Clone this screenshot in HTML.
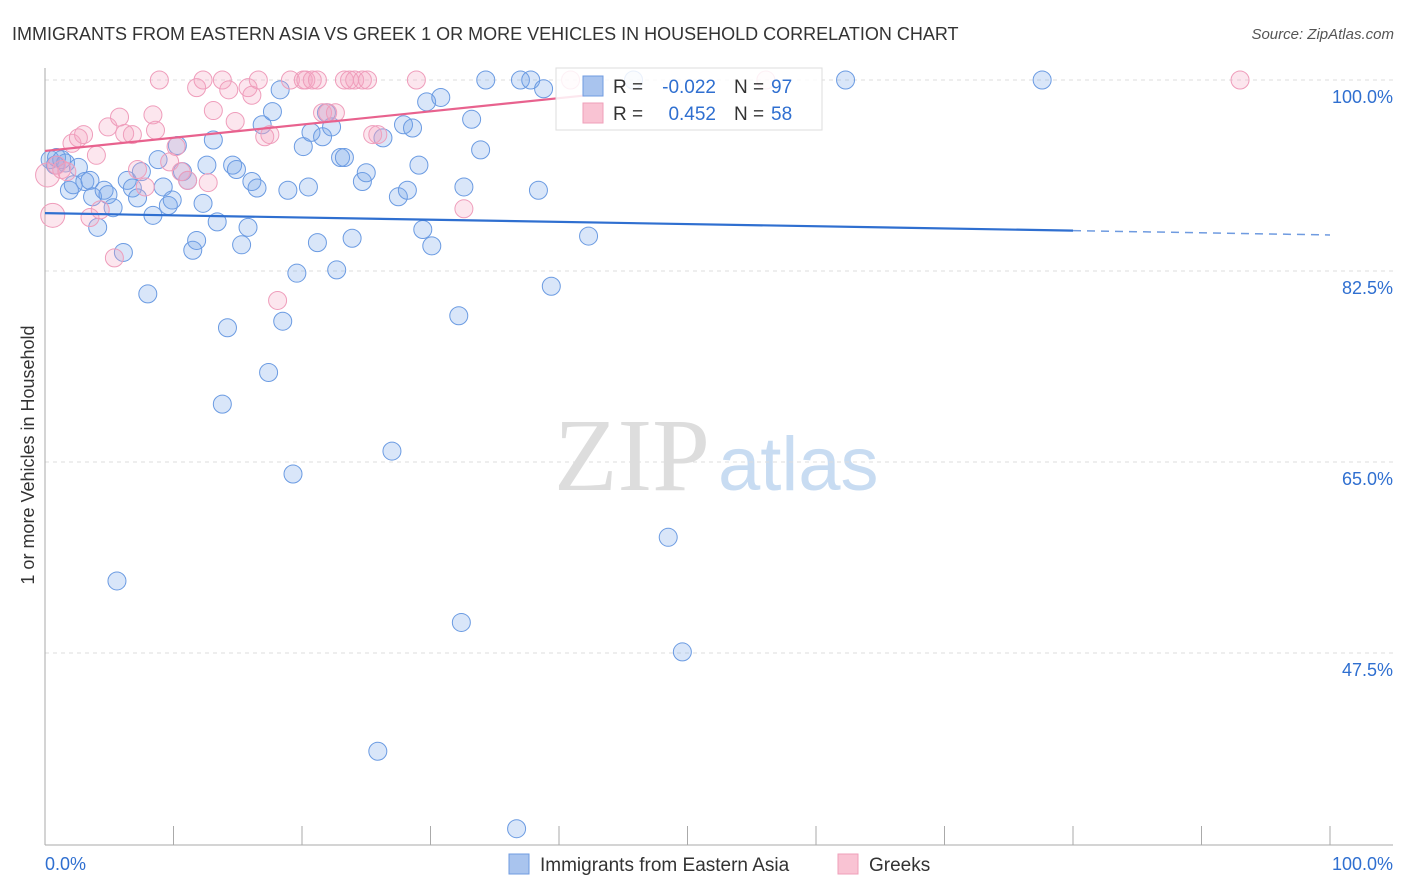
<!DOCTYPE html>
<html><head><meta charset="utf-8">
<style>
body{margin:0;background:#fff;font-family:"Liberation Sans",sans-serif;}
#wrap{position:relative;width:1406px;height:892px;overflow:hidden;}
</style></head>
<body>
<div id="wrap">
<svg id="svg" width="1406" height="892" xmlns="http://www.w3.org/2000/svg">
<text x="12" y="40" font-size="18" fill="#333">IMMIGRANTS FROM EASTERN ASIA VS GREEK 1 OR MORE VEHICLES IN HOUSEHOLD CORRELATION CHART</text>
<text x="1394" y="39" font-size="15" fill="#555" font-style="italic" text-anchor="end">Source: ZipAtlas.com</text>
<text x="554" y="490" font-size="104" fill="#ddd" font-family="Liberation Serif,serif">ZIP</text>
<text x="718" y="490" font-size="76" fill="#c8dcf2">atlas</text>
<text transform="translate(34,455) rotate(-90)" font-size="18" fill="#333" text-anchor="middle">1 or more Vehicles in Household</text>
<g id="grid"></g><g id="axes"></g><g id="pts"></g><g id="trend"></g>
<g>
<rect x="556" y="68" width="266" height="62" fill="#fff" fill-opacity="0.85" stroke="#ddd"/>
<rect x="583" y="76" width="20" height="20" fill="#a9c4ee" stroke="#6f9be0"/>
<rect x="583" y="103" width="20" height="20" fill="#f9c3d3" stroke="#ef9fba"/>
<text x="613" y="93" font-size="19" fill="#333">R =</text>
<text x="716" y="93" font-size="19" fill="#2f6fd0" text-anchor="end">-0.022</text>
<text x="734" y="93" font-size="19" fill="#333">N =</text>
<text x="771" y="93" font-size="19" fill="#2f6fd0">97</text>
<text x="613" y="120" font-size="19" fill="#333">R =</text>
<text x="716" y="120" font-size="19" fill="#2f6fd0" text-anchor="end">0.452</text>
<text x="734" y="120" font-size="19" fill="#333">N =</text>
<text x="771" y="120" font-size="19" fill="#2f6fd0">58</text>
</g>
<g>
<rect x="509" y="854" width="20" height="20" fill="#a9c4ee" stroke="#6f9be0"/>
<text x="540" y="871" font-size="19" fill="#333">Immigrants from Eastern Asia</text>
<rect x="838" y="854" width="20" height="20" fill="#f9c3d3" stroke="#ef9fba"/>
<text x="869" y="871" font-size="19" fill="#333">Greeks</text>
</g>
<text x="45" y="870" font-size="18" fill="#2f6fd0">0.0%</text>
<text x="1393" y="870" font-size="18" fill="#2f6fd0" text-anchor="end">100.0%</text>
</svg>
</div>
<script>
const yTicks=[100,82.5,65,47.5];
const yTickLabels=["100.0%","82.5%","65.0%","47.5%"];
const blueX=[0.4,0.9,1.3,0.8,1.6,1.9,2.2,2.6,3.1,3.5,3.7,4.1,4.6,4.9,5.3,5.6,6.1,6.4,6.8,7.2,7.5,8.0,8.4,8.8,9.2,9.6,9.9,10.3,10.7,11.1,11.5,11.8,12.3,12.6,13.1,13.4,13.8,14.2,14.6,14.9,15.3,15.8,16.1,16.5,16.9,17.4,17.7,18.3,18.5,18.9,19.3,19.6,20.1,20.5,20.7,21.2,21.6,21.9,22.3,22.7,23.0,23.3,23.9,24.7,25.0,25.9,26.3,27.0,27.5,27.9,28.2,28.6,29.1,29.4,29.7,30.1,30.8,32.2,32.4,32.6,33.2,33.9,34.3,36.7,37.0,37.8,38.4,38.8,39.4,42.3,45.8,48.5,49.6,62.3,77.6];
const blueY=[92.7,92.9,92.7,92.2,92.4,89.9,90.4,92.0,90.7,90.8,89.3,86.5,89.9,89.5,88.3,54.1,84.2,90.8,90.1,89.2,91.6,80.4,87.6,92.7,90.2,88.5,89.0,94.0,91.6,90.8,84.4,85.3,88.7,92.2,94.5,87.0,70.3,77.3,92.2,91.8,84.9,86.5,90.7,90.1,95.9,73.2,97.1,99.1,77.9,89.9,63.9,82.3,93.9,90.2,95.2,85.1,94.8,97.0,95.7,82.6,92.9,92.9,85.5,90.7,91.5,38.5,94.7,66.0,89.3,95.9,89.9,95.6,92.2,86.3,98.0,84.8,98.4,78.4,50.3,90.2,96.4,93.6,100,31.4,100,100,89.9,99.2,81.1,85.7,100,58.1,47.6,100,100];
const pinkX=[0.2,0.6,0.9,1.3,1.7,2.1,2.6,3.0,4.0,4.3,3.5,4.9,5.4,5.8,6.2,6.8,7.2,7.8,8.4,8.6,8.9,9.7,10.2,10.6,11.1,11.8,12.3,12.7,13.1,13.8,14.3,14.8,15.8,16.1,16.6,17.1,17.5,18.1,19.1,20.1,20.3,20.8,21.2,21.6,22.0,22.6,23.3,23.7,24.1,24.7,25.1,25.5,25.9,28.9,32.6,40.9,56.1,93.0];
const pinkY=[91.3,87.6,92.2,91.8,91.6,94.2,94.7,95.0,93.1,88.1,87.4,95.7,83.7,96.6,95.1,95.0,91.8,90.2,96.8,95.4,100,92.5,93.9,91.6,90.8,99.3,100,90.6,97.2,100,99.1,96.2,99.3,98.6,100,94.8,95.0,79.8,100,100,100,100,100,97.0,97.0,97.0,100,100,100,100,100,95.0,95.0,100,88.2,100,100,100];
const blueTrend=[0,87.8,80,86.2,100,85.8];
const pinkTrend=[0,93.5,43,98.7];
const X=v=>45+v*12.85, Y=v=>80+(100-v)*191/17.5;
const NS="http://www.w3.org/2000/svg";
function mk(tag,attrs,parent){const e=document.createElementNS(NS,tag);for(const k in attrs)e.setAttribute(k,attrs[k]);document.getElementById(parent).appendChild(e);return e;}
yTicks.forEach((t,i)=>{
  const l=mk('line',{x1:45,x2:1393,y1:Y(t),y2:Y(t),stroke:'#ddd','stroke-dasharray':'4,4'},'grid');
  
  
  const tx=mk('text',{x:1393,y:Y(t)+23,'font-size':18,fill:'#2f6fd0','text-anchor':'end'},'grid');
  tx.textContent=yTickLabels[i];
  
  
});
let a=mk('line',{x1:45,x2:45,y1:68,y2:845,stroke:'#aaa'},'axes');


a=mk('line',{x1:45,x2:1393,y1:845,y2:845,stroke:'#aaa'},'axes');


for(let k=1;k<=10;k++){
  const t=mk('line',{x1:X(k*10),x2:X(k*10),y1:826,y2:845,stroke:'#aaa'},'axes');
  
  
}
blueX.forEach((x,i)=>{
  const c=mk('circle',{cx:X(x),cy:Y(blueY[i]),r:9,fill:'rgba(120,165,235,0.28)',stroke:'#6b9be2','stroke-width':1},'pts');
  
  
});
pinkX.forEach((x,i)=>{
  const c=mk('circle',{cx:X(x),cy:Y(pinkY[i]),r:(i<2?12:9),fill:'rgba(245,165,195,0.28)',stroke:'#ef9dbb','stroke-width':1},'pts');
  
  
});
let t=mk('line',{x1:X(blueTrend[0]),y1:Y(blueTrend[1]),x2:X(blueTrend[2]),y2:Y(blueTrend[3]),stroke:'#2f6fd0','stroke-width':2.2},'trend');


t=mk('line',{x1:X(blueTrend[2]),y1:Y(blueTrend[3]),x2:X(blueTrend[4]),y2:Y(blueTrend[5]),stroke:'#6f9be0','stroke-width':1.5,'stroke-dasharray':'8,6'},'trend');


t=mk('line',{x1:X(pinkTrend[0]),y1:Y(pinkTrend[1]),x2:X(pinkTrend[2]),y2:Y(pinkTrend[3]),stroke:'#e8628e','stroke-width':2.2},'trend');


</script>
</body></html>
